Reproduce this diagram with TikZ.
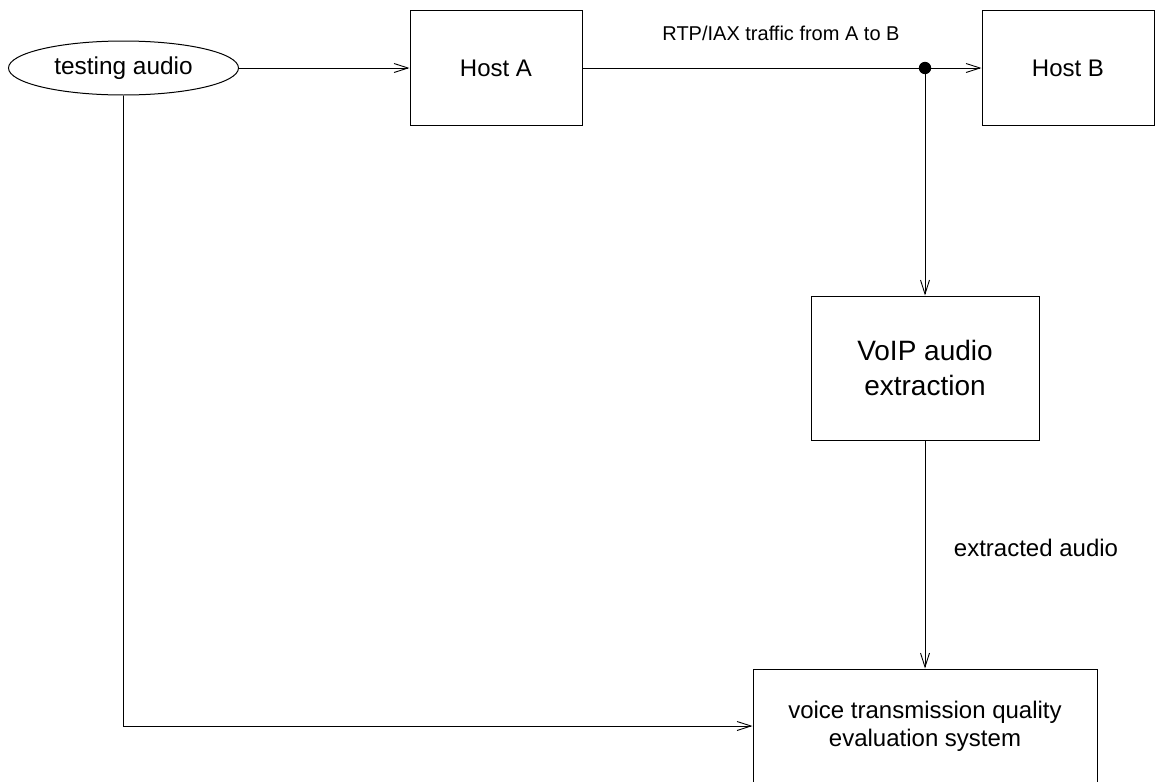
\documentclass[tikz,border=0pt]{standalone}
\usepackage{fontspec}
\setmainfont{Liberation Sans}
\usetikzlibrary{arrows.meta,shapes.geometric}
\begin{document}
\begin{tikzpicture}[x=0.5pt,y=-0.5pt,
  every node/.style={inner sep=0pt,align=center},
  box/.style={draw,line width=0.5pt,rectangle},
  hostbox/.style={box,minimum width=86pt,minimum height=57.5pt,font=\fontsize{12}{14}\selectfont},
  oval/.style={draw,line width=0.5pt,ellipse,minimum width=115pt,minimum height=27pt,font=\fontsize{12.2}{14}\selectfont},
  flow/.style={line width=0.5pt,-{Straight Barb[length=7pt,width=4.5pt,line width=0.45pt]}},
  lbl/.style={font=\fontsize{12}{14}\selectfont}]
\clip (0,0) rectangle (1158,782);
\fill[white] (0,0) rectangle (1158,782);

% sources and hosts
\node[oval] (aud) at (123.5,68) {testing audio};
\node[hostbox] (hostA) at (496,68) {Host A};
\node[hostbox] (hostB) at (1068,68) {Host B};

% processing boxes
\node[box,minimum width=114pt,minimum height=72pt,font=\fontsize{14}{17.5}\selectfont] (voip) at (925,368) {VoIP audio\\extraction};
\node[box,minimum width=172pt,minimum height=57pt,font=\fontsize{12}{14}\selectfont] (eval) at (925,726) {voice transmission quality\\evaluation system};

% tap point on the A-to-B link
\coordinate (tap) at (925,68);

% connectors
\draw[flow] (aud) -- (hostA);
\draw[flow] (hostA) -- (hostB);
\fill (tap) circle[radius=3.1pt];
\draw[flow] (tap) -- (voip);
\draw[flow] (voip) -- (eval);
\draw[flow] (aud.south) |- (eval.west);

% labels
\node[font=\fontsize{10}{12}\selectfont] (rtp) at (781,33) {RTP/IAX traffic from A to B};
\node[lbl] (ext) at (1036,548) {extracted audio};
\end{tikzpicture}
\end{document}
